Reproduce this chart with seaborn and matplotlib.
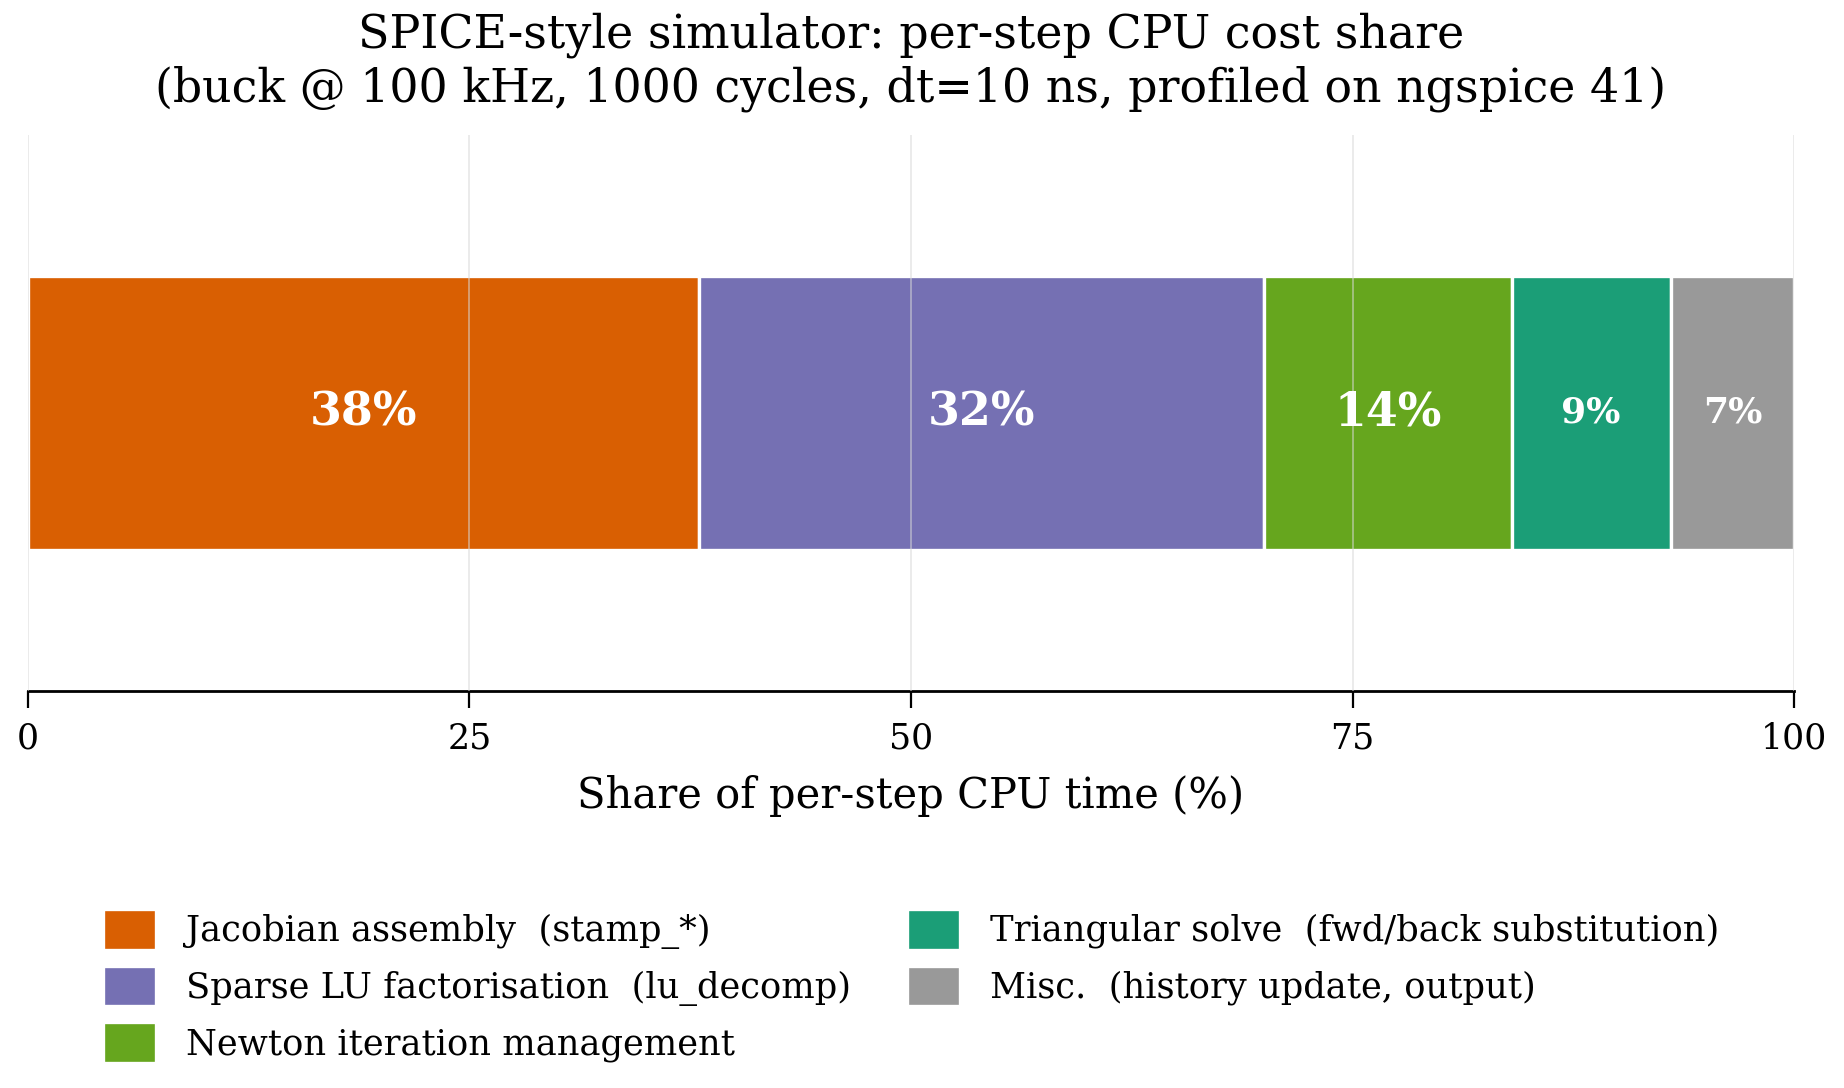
import numpy as np
import matplotlib
matplotlib.use("Agg")
import matplotlib.pyplot as plt
import seaborn as sns

# dados do perfil de CPU por passo
componentes = [
    "Jacobian assembly  (stamp_*)",
    "Sparse LU factorisation  (lu_decomp)",
    "Newton iteration management",
    "Triangular solve  (fwd/back substitution)",
    "Misc.  (history update, output)",
]
percentuais = [38, 32, 14, 9, 7]
cores = ["#d95f02", "#7570b3", "#66a61e", "#1b9e77", "#999999"]
rotulos = ["38%", "32%", "14%", "9%", "7%"]
tam_rotulo = [16.5, 16.5, 16.5, 13, 13]

sns.set_theme(style="white")
plt.rcParams["font.family"] = ["DejaVu Serif"]
plt.rcParams["text.color"] = "black"
plt.rcParams["axes.labelcolor"] = "black"
plt.rcParams["xtick.color"] = "black"

fig, ax = plt.subplots(figsize=(9.22, 5.44), dpi=200)

inicio = np.concatenate([[0], np.cumsum(percentuais)[:-1]])
for nome, val, esq, cor, txt, fs in zip(componentes, percentuais, inicio, cores, rotulos, tam_rotulo):
    ax.barh(0, val, left=esq, height=0.6, color=cor, edgecolor="white",
            linewidth=1.2, label=nome, zorder=1)
    ax.text(esq + val / 2, 0, txt, ha="center", va="center", color="white",
            fontsize=fs, fontweight="bold", zorder=3)

ax.set_xlim(0, 100)
ax.set_ylim(-0.61, 0.61)
ax.set_xticks([0, 25, 50, 75, 100])
ax.set_yticks([])
ax.xaxis.grid(True, color="#d8d8d8", linewidth=0.6, alpha=0.6, zorder=2)
ax.set_axisbelow(False)
for s in ["top", "right", "left"]:
    ax.spines[s].set_visible(False)
ax.spines["bottom"].set_color("black")
ax.spines["bottom"].set_linewidth(1.0)
ax.tick_params(axis="x", bottom=True, length=6, width=0.8, color="black",
               labelsize=12.5, pad=5)

ax.set_xlabel("Share of per-step CPU time (%)", fontsize=15, labelpad=7)
ax.set_title("SPICE-style simulator: per-step CPU cost share\n"
             "(buck @ 100 kHz, 1000 cycles, dt=10 ns, profiled on ngspice 41)",
             fontsize=16.5, pad=12)

ax.legend(loc="upper center", bbox_to_anchor=(0.5, -0.335), ncol=2, frameon=False,
          fontsize=12.7, handlelength=1.5, handleheight=1.4, columnspacing=1.6,
          labelspacing=0.45, handletextpad=0.85)

plt.subplots_adjust(left=0.015, right=0.973, top=0.876, bottom=0.365)
plt.savefig("out.png", dpi=200)
